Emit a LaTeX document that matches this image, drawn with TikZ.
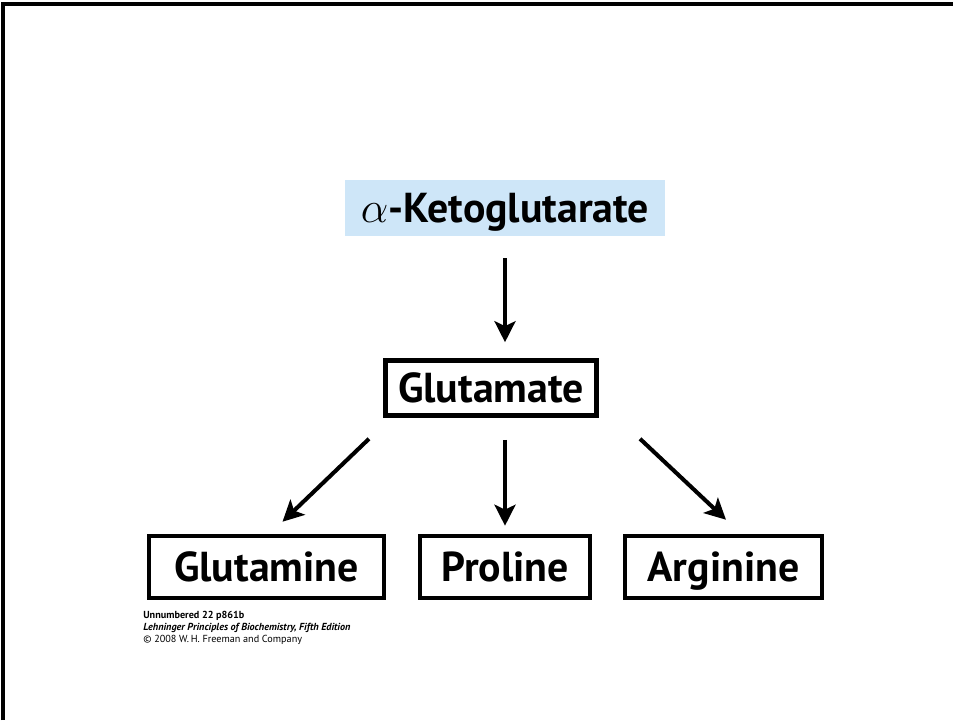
\documentclass[tikz,border=0pt]{standalone}
\usepackage{amsmath}
\usepackage{fontspec}
\setmainfont{PT Sans}
\usepackage{tikz}
\usetikzlibrary{positioning,arrows.meta}
\definecolor{ketoblue}{RGB}{206,230,248}

\begin{document}
\begin{tikzpicture}[
    lbl/.style={inner sep=0pt, text height=16.6pt, text depth=0pt, font=\bfseries\fontsize{23.8}{26}\selectfont},
    box/.style={lbl, draw, line width=2.6pt},
    arr/.style={line width=2.3pt, -{Stealth[length=0.42cm, width=0.42cm, inset=0.1cm]}},
  ]
  \useasboundingbox (0,0) rectangle (19.06,-14.4);
  \draw[line width=1.8pt] (0.06,-14.4) -- (0.06,-0.08) -- (19.06,-0.08);

	\node (K) [lbl, fill=ketoblue, minimum width=6.4cm, minimum height=1.12cm] at (10.1,-4.16) {{\fontsize{31}{31}\selectfont$\alpha$}-Ketoglutarate};
	\node (G) [box, below of = K, node distance=3.6cm, xshift=-0.28cm, minimum width=4.22cm, minimum height=1.1cm] {Glutamate};
	\node (P) [box, below of = G, node distance=3.58cm, xshift=0.28cm, minimum width=3.4cm, minimum height=1.24cm] {Proline};
	\node (Q) [box, left of = P, node distance=4.77cm, minimum width=4.7cm, minimum height=1.24cm] {Glutamine};
	\node (A) [box, right of = P, node distance=4.37cm, minimum width=3.94cm, minimum height=1.24cm] {Arginine};
	\node (N) [anchor=north west, align=left, inner sep=0pt, font=\fontsize{5.8}{6.9}\selectfont] at (2.86,-12.22)
	  {\textbf{Unnumbered 22 p861b}\\ \textbf{\textit{Lehninger Principles of Biochemistry, Fifth Edition}}\\ \copyright\ 2008 W.\,H. Freeman and Company};

  \path ([yshift=-0.44cm]K.south) edge [arr] ([xshift=0.28cm, yshift=0.32cm]G.north);
  \path ([xshift=-2.44cm, yshift=-0.42cm]G.south) edge [arr] ([xshift=0.32cm, yshift=0.24cm]Q.north);
  \path ([xshift=0.28cm, yshift=-0.44cm]G.south) edge [arr] ([yshift=0.16cm]P.north);
  \path ([xshift=2.98cm, yshift=-0.42cm]G.south) edge [arr] ([xshift=0.05cm, yshift=0.28cm]A.north);

  \end{tikzpicture}
\end{document}
